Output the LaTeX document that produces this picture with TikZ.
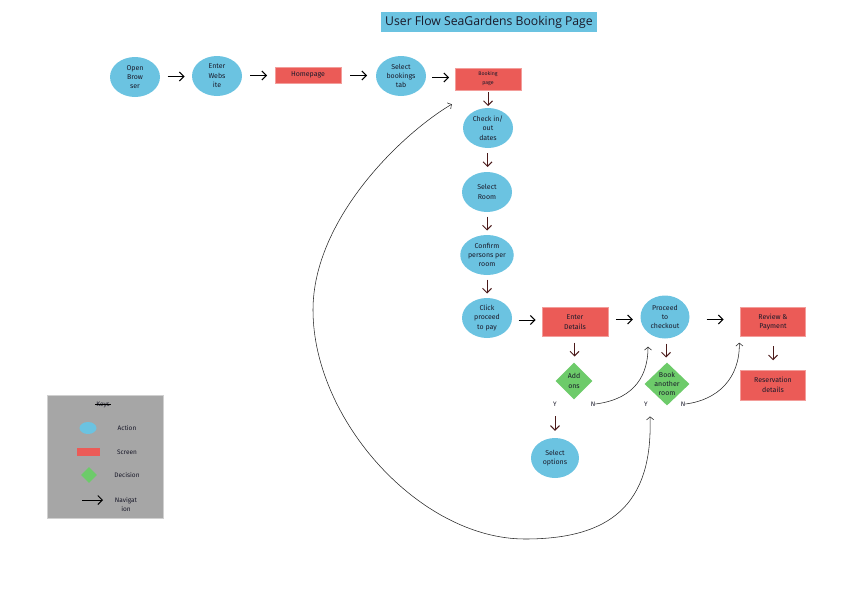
\documentclass[tikz,border=0pt]{standalone}
\usepackage{fontspec}
\setmainfont{Fira Sans}
\newfontfamily\titlefont{Open Sans}
\usetikzlibrary{arrows.meta,shapes.geometric,calc}
\definecolor{actblue}{HTML}{6BC3E1}
\definecolor{scrred}{HTML}{EB5B57}
\definecolor{decgreen}{HTML}{6DCB6A}
\definecolor{brownarr}{HTML}{4B1A1A}
\definecolor{keygray}{HTML}{A6A6A6}
\definecolor{keyedge}{HTML}{D0D0D0}
\definecolor{inkc}{HTML}{1A1A2A}
\tikzset{
  txt/.style={font=\fontsize{7}{9.4}\selectfont, align=center, inner sep=0pt, text=inkc},
  action/.style={ellipse, fill=actblue, minimum width=50pt, minimum height=40pt, inner sep=0pt, txt},
  screen/.style={rectangle, fill=scrred, draw=scrred!60!white, line width=0.4pt, minimum width=66pt, minimum height=29pt, inner sep=0pt, txt},
  decision/.style={diamond, fill=decgreen, minimum width=37pt, minimum height=37pt, inner sep=0pt},
  lbl/.style={txt},
  nav/.style={-{Straight Barb[length=4.5pt,width=9pt,line width=1pt]}, line width=1pt, black},
  downarr/.style={-{Straight Barb[length=4.5pt,width=9pt,line width=1pt]}, line width=1pt, brownarr},
  curvearr/.style={line width=0.55pt, black!85},
  barb/.tip={Straight Barb[length=3pt,width=7pt]},
  yn/.style={font=\fontsize{6.5}{7}\selectfont, inner sep=0pt, text=inkc},
}
\begin{document}
\begin{tikzpicture}[x=1pt,y=-1pt]
\useasboundingbox (0,0) rectangle (868,608);

% title
\node[fill=actblue, inner xsep=4pt, minimum height=20pt, font=\titlefont\fontsize{12.2}{14}\selectfont, text=inkc] (title) at (489,22) {User Flow SeaGardens Booking Page};

% top row
\node[action] (ob) at (135,77) {Open\\Brow\\ser};
\node[action] (ew) at (217,76) {Enter\\Webs\\ite};
\node[screen, minimum height=16pt] (hp) at (308,75) {Homepage};
\node[action] (sb) at (401,76) {Select\\bookings\\tab};
\node[screen, minimum height=22pt, font=\fontsize{5.2}{9}\selectfont] (bp) at (488,79) {Booking\\page};

% column
\node[action] (ci) at (488,128) {Check in/\\out\\dates};
\node[action] (sr) at (487,192) {Select\\Room};
\node[action] (cp) at (487,255) {Confirm\\persons per\\room};
\node[action] (cl) at (487,318) {Click\\proceed\\to pay};

% lower row
\node[screen] (ed) at (575,322) {Enter\\Details};
\node[action, minimum width=49pt, minimum height=43pt] (pc) at (665,317) {Proceed\\to\\checkout};
\node[screen, minimum width=65pt] (rp) at (773,322) {Review \&\\Payment};
\node[screen, minimum width=65pt, minimum height=30pt] (rd) at (773,385) {Reservation\\details};

\node[decision, label={[lbl]center:Add\\ons}] (ao) at (574,381) {};
\node[decision, minimum width=45pt, minimum height=43pt, label={[lbl]center:Book\\another\\room}] (ba) at (667,384) {};
\node[action, minimum width=48pt] (so) at (555,458) {Select\\options};

\node[yn] (aoY) at (555,404) {Y};
\node[yn] (aoN) at (593,404) {N};
\node[yn] (baY) at (646,404) {Y};
\node[yn] (baN) at (683,404) {N};

% horizontal arrows
\foreach \a/\b in {ob/ew, ew/hp, hp/sb, sb/bp, cl/ed, ed/pc, pc/rp}{
  \draw[nav] ($(\a.east)!0.5!(\b.west)+(-8.5,0)$) -- ($(\a.east)!0.5!(\b.west)+(8.5,0)$);
}
% vertical arrows
\foreach \a/\b in {bp/ci, ci/sr, sr/cp, cp/cl, ed/ao, pc/ba, rp/rd}{
  \draw[downarr] ($(\a.south)!0.5!(\b.north)+(0,-7)$) -- ($(\a.south)!0.5!(\b.north)+(0,7)$);
}
\draw[downarr] ($(aoY.south)+(0,10)$) -- ($(so.north)+(0,-7)$);

% curved connectors
\coordinate (pcin) at ($(pc.south)+(-17,8)$);
\coordinate (rpin) at ($(rp.south west)+(-1,6)$);
\coordinate (bpin) at ($(bp.south west)+(-3,14)$);
\coordinate (bain) at ($(baY.south)+(4,10)$);
\draw[curvearr, -{barb}] (aoN.east) .. controls (628,400) and (648,382) .. (pcin);
\draw[curvearr, -{barb}] (baN.east) .. controls (718,400) and (740,378) .. (rpin);
\draw[curvearr, {barb}-{barb}] (bain) .. controls (653,505) and (610,539) .. (525,539)
  .. controls (420,539) and (313,420) .. (313,310)
  .. controls (313,220) and (400,135) .. (bpin);

% legend
\node[draw=keyedge, fill=keygray, line width=0.5pt, minimum width=116pt, minimum height=123pt, inner sep=0pt] (keys) at (105,456.5) {};
\node[yn] (keyt) at (103,405) {Keys};
\draw[line width=0.5pt] ($(keyt.west)+(-1,-0.8)$) -- ($(keyt.east)+(1,-0.8)$);
\node[ellipse, fill=actblue, minimum width=17pt, minimum height=12pt, inner sep=0pt] (ka) at (88,428) {};
\node[rectangle, fill=scrred, minimum width=23pt, minimum height=8pt, inner sep=0pt] (ks) at (88,452) {};
\node[diamond, fill=decgreen, minimum width=16pt, minimum height=16pt, inner sep=0pt] (kd) at (89,475) {};
\coordinate (kn1) at (82,500);
\coordinate (kn2) at (103,500);
\draw[nav] (kn1) -- (kn2);
\node[yn] (kat) at (127,428) {Action};
\node[yn] (kst) at (127,452) {Screen};
\node[yn] (kdt) at (127,475) {Decision};
\node[yn, align=center, font=\fontsize{6.5}{9}\selectfont] (knt) at (126,504) {Navigat\\ion};
\end{tikzpicture}
\end{document}
